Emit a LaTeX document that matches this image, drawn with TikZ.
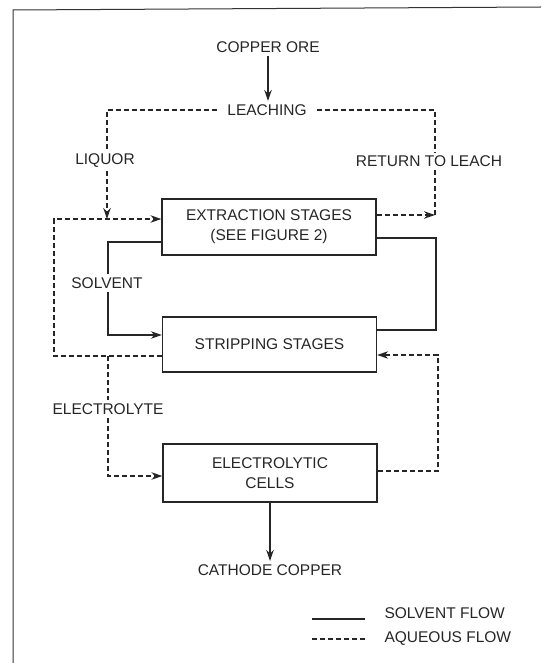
\documentclass[tikz,border=0pt]{standalone}
\usepackage{fontspec}
\setmainfont{Liberation Sans}
\usepackage{tikz}
\usetikzlibrary{arrows.meta}

\begin{document}
\begin{tikzpicture}[x=1pt,y=-1pt,
    txt/.style={font=\fontsize{15.5}{20}\selectfont,text=black!85,align=center},
    stage/.style={txt,draw=black!85,line width=1.3pt,minimum width=214pt,minimum height=56pt},
    sv/.style={draw=black!85,line width=1.3pt},
    aq/.style={sv,dash pattern=on 5pt off 3pt},
    tip/.style={-{Stealth[length=11pt,width=7.5pt]}}]
  \useasboundingbox (0,0) rectangle (541,663);
  % frame
  \draw[black!80,line width=1pt] (13,663) -- (13,10) -- (541,7);

  % stages
  \node[stage] (extract) at (269,227) {EXTRACTION STAGES\\(SEE FIGURE 2)};
  \node[stage,minimum height=55pt] (strip) at (269.5,344.5) {STRIPPING STAGES};
  \node[stage,minimum height=58pt] (cells) at (270,473) {ELECTROLYTIC\\CELLS};

  % labels
  \node[txt] (ore) at (268,47) {COPPER ORE};
  \node[txt,inner xsep=10pt] (leach) at (267,110) {LEACHING};
  \node[txt] (liquor) at (105,161) {LIQUOR};
  \node[txt] (ret) at (429,161) {RETURN TO LEACH};
  \node[txt] (solvent) at (107,283) {SOLVENT};
  \node[txt] (electrolyte) at (108,409) {ELECTROLYTE};
  \node[txt] (cathode) at (270,570) {CATHODE COPPER};

  \coordinate (rc) at (435,215);
  \coordinate (ll) at (54,219);
  \coordinate (lb) at (54,356);

  % solid flows
  \draw[sv,tip] (ore) -- (ore |- leach.north);
  \draw[sv] ([yshift=-15pt]extract.west) -| (solvent.north -| 108,0);
  \draw[sv,tip] (solvent.south -| 108,0) |- ([yshift=9.5pt]strip.west);
  \draw[sv] ([yshift=-11pt]extract.east) -| (436,330) -- ([yshift=14.5pt]strip.east);
  \draw[sv,tip] (cells) -- (cathode);

  % aqueous flows
  \draw[aq] (leach.west) -| (liquor.north -| 107,0);
  \draw[aq,tip] (liquor.south -| 107,0) -- (ll -| 107,0);
  \draw[aq] (leach.east) -| (ret.north -| rc);
  \draw[aq] (ret.south -| rc) -- (rc);
  \draw[aq,tip] ([yshift=12pt]extract.east) -- (rc);
  \draw[aq,tip] ([yshift=-11.5pt]strip.west) -- (lb) -- (ll) -- ([yshift=8pt]extract.west);
  \draw[aq] (lb -| 108,0) -- (electrolyte.north -| 108,0);
  \draw[aq,tip] (electrolyte.south -| 108,0) |- ([yshift=-3pt]cells.west);
  \draw[aq,tip] ([yshift=2pt]cells.east) -| (438,355) -- ([yshift=-10.5pt]strip.east);

  % legend
  \node[txt,anchor=west] (legsv) at (381,613) {SOLVENT FLOW};
  \node[txt,anchor=west] (legaq) at (381,639) {AQUEOUS FLOW};
  \draw[sv,shorten >=16pt] (312,619) -- (legsv.west |- 0,619);
  \draw[aq,shorten >=16pt] (312,639) -- (legaq.west);
\end{tikzpicture}
\end{document}
